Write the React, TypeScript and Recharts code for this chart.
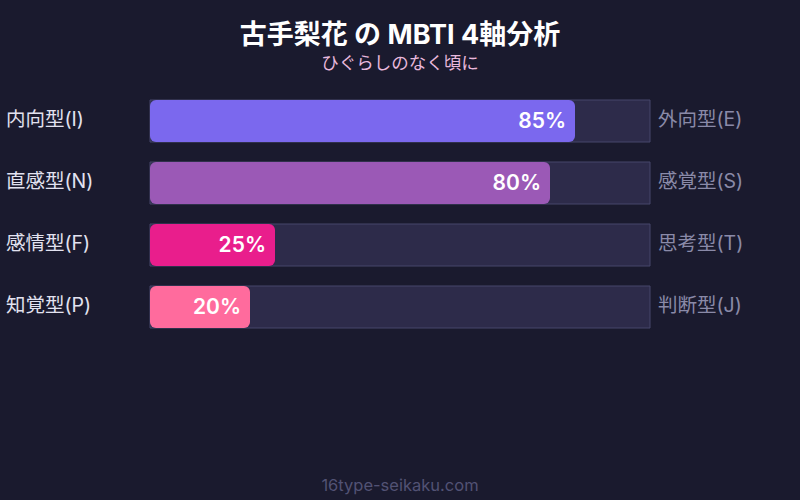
import { BarChart, Bar, XAxis, YAxis, Cell, LabelList } from "recharts";

document.body.style.margin = "0";

const leftLabels = ["内向型(I)", "直感型(N)", "感情型(F)", "知覚型(P)"];
const rightLabels = ["外向型(E)", "感覚型(S)", "思考型(T)", "判断型(J)"];
const scores = [85, 80, 25, 20];
const colors = ["#7b68ee", "#9b59b6", "#e91e8c", "#ff6b9d"];

const data = leftLabels.map((l, i) => ({
  left: l,
  right: rightLabels[i],
  value: scores[i],
}));

const font = "Inter, 'Noto Sans CJK JP', sans-serif";

// side labels sit outside the track, one on each end
function LeftLabel({ y, height, value }: any) {
  return (
    <text x={6} y={y + height / 2 - 2} dominantBaseline="central" fill="#e2e2f0" fontSize={19.5} fontFamily={font}>
      {value}
    </text>
  );
}

function RightLabel({ y, height, value }: any) {
  return (
    <text x={658} y={y + height / 2 - 2} dominantBaseline="central" fill="#8a8aa8" fontSize={19.5} fontFamily={font}>
      {value}
    </text>
  );
}

export default function App() {
  return (
    <div style={{ position: "relative", width: 800, height: 500, background: "#1a1a2e", fontFamily: font }}>
      <div style={{ position: "absolute", top: 15, width: 800, textAlign: "center", color: "#fff", fontSize: 27, fontWeight: 700, lineHeight: "40px" }}>
        古手梨花 の MBTI 4軸分析
      </div>
      <div style={{ position: "absolute", top: 50, width: 800, textAlign: "center", color: "#e8b8dc", fontSize: 17.5, lineHeight: "26px" }}>
        ひぐらしのなく頃に
      </div>
      <BarChart
        width={800}
        height={500}
        data={data}
        layout="vertical"
        margin={{ top: 90, right: 150, left: 150, bottom: 162 }}
        barCategoryGap={10}
      >
        <XAxis type="number" domain={[0, 100]} hide />
        <YAxis type="category" dataKey="left" hide />
        <Bar
          dataKey="value"
          radius={6}
          isAnimationActive={false}
          background={{ fill: "#2d2b4a", stroke: "#46466a", strokeWidth: 1 }}
        >
          {data.map((d, i) => (
            <Cell key={d.left} fill={colors[i]} />
          ))}
          <LabelList
            dataKey="value"
            position="insideRight"
            offset={9}
            fill="#ffffff"
            fontSize={21}
            fontWeight={600}
            fontFamily={font}
            formatter={(v: any) => `${v}%`}
          />
          <LabelList dataKey="left" content={<LeftLabel />} />
          <LabelList dataKey="right" content={<RightLabel />} />
        </Bar>
      </BarChart>
      <div style={{ position: "absolute", top: 472, width: 800, textAlign: "center", color: "#525274", fontSize: 16.5, lineHeight: "26px" }}>
        16type-seikaku.com
      </div>
    </div>
  );
}
